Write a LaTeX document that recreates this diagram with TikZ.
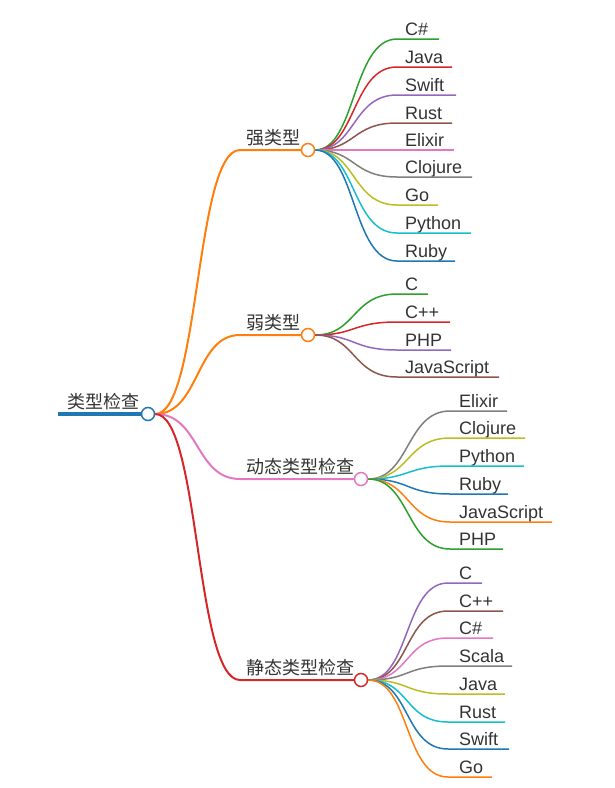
\documentclass[tikz,border=0pt]{standalone}
\usepackage{fontspec}
\setmainfont{Liberation Sans}
\newfontfamily\cjk{Noto Sans CJK SC}
\usetikzlibrary{backgrounds}
\definecolor{cblue}{HTML}{1F77B4}
\definecolor{corange}{HTML}{FF7F0E}
\definecolor{cgreen}{HTML}{2CA02C}
\definecolor{cred}{HTML}{D62728}
\definecolor{cpurple}{HTML}{9467BD}
\definecolor{cbrown}{HTML}{8C564B}
\definecolor{cpink}{HTML}{E377C2}
\definecolor{cgray}{HTML}{7F7F7F}
\definecolor{colive}{HTML}{BCBD22}
\definecolor{ccyan}{HTML}{17BECF}
\definecolor{txt}{HTML}{333333}
\tikzset{
  hub/.style={circle, draw=#1, line width=1.5pt, fill=white, minimum size=13pt, inner sep=0pt},
  leaf/.style={anchor=base west, inner sep=0pt, font=\fontsize{18}{18}\selectfont, text=txt},
  clabel/.style={anchor=base west, inner sep=0pt, font=\cjk\fontsize{18}{18}\selectfont, text=txt},
  branch/.style={line width=2pt},
  twig/.style={line width=1.5pt},
}
\begin{document}
\begin{tikzpicture}[x=1pt,y=-1pt]
\useasboundingbox (0,0) rectangle (614,788);
% hubs
\node[hub=cblue] (root) at (148,414) {};
\node[hub=corange] (sh) at (308,150) {};
\node[hub=corange] (wh) at (308,335) {};
\node[hub=cpink] (dh) at (361,479) {};
\node[hub=cred] (th) at (361,680) {};
% labels
\node[clabel] (rootl) at (67,408) {类型检查};
\node[clabel] (shl) at (246,144) {强类型};
\node[clabel] (whl) at (246,329) {弱类型};
\node[clabel] (dhl) at (246,473) {动态类型检查};
\node[clabel] (thl) at (246,674) {静态类型检查};
\coordinate (rootstart) at (58,414);
\coordinate (sk) at (240,150);
\coordinate (wk) at (240,335);
\coordinate (dk) at (240,479);
\coordinate (tk) at (240,680);
\begin{scope}[on background layer]
\draw[cblue, line width=4pt] (rootstart) -- (root.west);
\draw[branch, corange] (root.east) .. controls (200,414) and (195,150) .. (sk) -- (sh.west);
\draw[branch, corange] (root.east) .. controls (200,414) and (195,335) .. (wk) -- (wh.west);
\draw[branch, cpink] (root.east) .. controls (200,414) and (195,479) .. (dk) -- (dh.west);
\draw[branch, cred] (root.east) .. controls (200,414) and (195,680) .. (tk) -- (th.west);
% strong
\foreach \n/\t/\y/\e/\c in {1/C\#/39/439/cgreen, 2/Java/67/452/cred, 3/Swift/95/456/cpurple, 4/Rust/123/452/cbrown, 5/Elixir/150/454/cpink, 6/Clojure/177/472/cgray, 7/Go/205/438/colive, 8/Python/233/471/ccyan, 9/Ruby/261/455/cblue}{
  \node[leaf] (s\n) at (405,\y-4) {\t};
  \coordinate (s\n a) at (397,\y);
  \coordinate (s\n b) at (\e,\y);
  \draw[twig,\c] (sh.east) .. controls (356,150) and (352,\y) .. (s\n a) -- (s\n b);
}
% weak
\foreach \n/\t/\y/\e/\c in {1/C/294/428/cgreen, 2/C++/322/450/cred, 3/PHP/350/451/cpurple, 4/JavaScript/377/499/cbrown}{
  \node[leaf] (w\n) at (405,\y-4) {\t};
  \coordinate (w\n a) at (397,\y);
  \coordinate (w\n b) at (\e,\y);
  \draw[twig,\c] (wh.east) .. controls (356,335) and (352,\y) .. (w\n a) -- (w\n b);
}
% dynamic
\foreach \n/\t/\y/\e/\c in {1/Elixir/411/507/cgray, 2/Clojure/438/525/colive, 3/Python/466/524/ccyan, 4/Ruby/494/508/cblue, 5/JavaScript/522/552/corange, 6/PHP/549/503/cgreen}{
  \node[leaf] (d\n) at (459,\y-4) {\t};
  \coordinate (d\n a) at (450,\y);
  \coordinate (d\n b) at (\e,\y);
  \draw[twig,\c] (dh.east) .. controls (410,479) and (406,\y) .. (d\n a) -- (d\n b);
}
% static
\foreach \n/\t/\y/\e/\c in {1/C/583/482/cpurple, 2/C++/611/503/cbrown, 3/C\#/638/493/cpink, 4/Scala/666/512/cgray, 5/Java/694/505/colive, 6/Rust/722/505/ccyan, 7/Swift/749/509/cblue, 8/Go/777/492/corange}{
  \node[leaf] (t\n) at (459,\y-4) {\t};
  \coordinate (t\n a) at (448,\y);
  \coordinate (t\n b) at (\e,\y);
  \draw[twig,\c] (th.east) .. controls (410,680) and (404,\y) .. (t\n a) -- (t\n b);
}
\end{scope}
\end{tikzpicture}
\end{document}
